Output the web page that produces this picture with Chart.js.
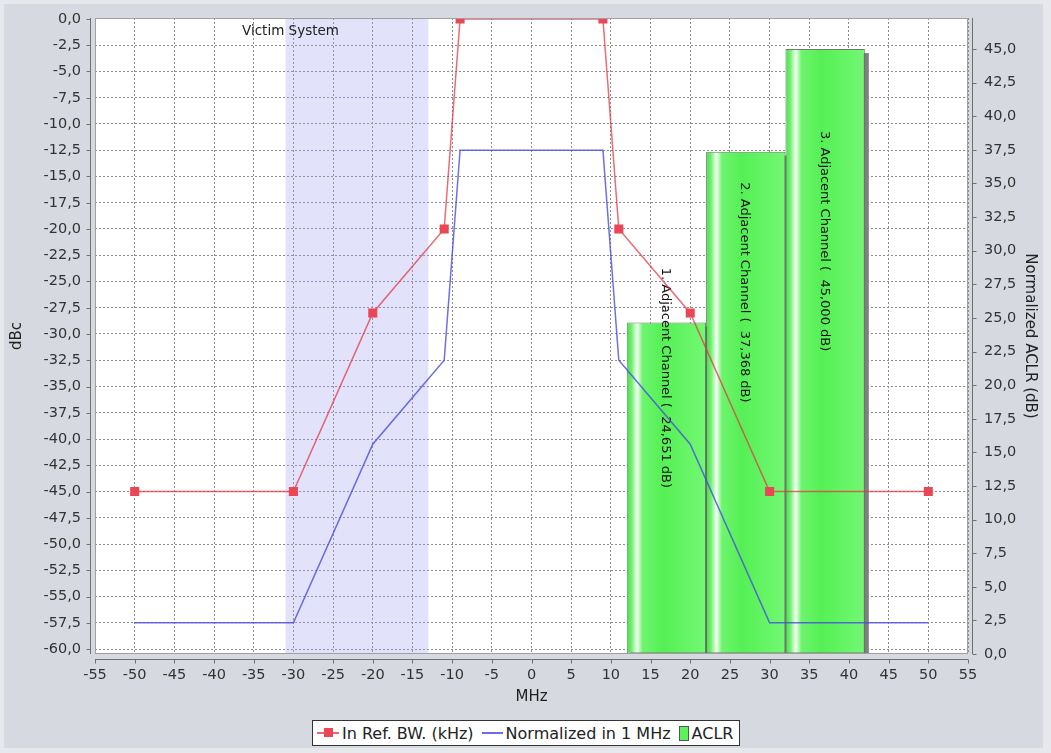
<!DOCTYPE html>
<html>
<head>
<meta charset="utf-8">
<script src="https://cdn.jsdelivr.net/npm/chart.js@4"></script>
<style>
  html, body { margin: 0; padding: 0; background: #e6e8ec; }
  #wrap { position: relative; width: 1051px; height: 753px; overflow: hidden; }
  #panel { position: absolute; left: 4px; top: 4px; width: 1039px; height: 744px; background: #d6d9df; }
  #chart { position: absolute; left: 0; top: 0; }
  #legend {
    position: absolute; top: 720px; left: 312px;
    display: flex; align-items: center; height: 24px;
    padding: 0 6px 0 4px; background: #fff; border: 1px solid #333;
    font: 16px "DejaVu Sans", sans-serif; color: #222; white-space: pre;
  }
  #legend .item { display: flex; align-items: center; margin-right: 8px; }
  #legend .item:last-child { margin-right: 0; }
  #legend .sym { display: inline-block; position: relative; margin-right: 3px; }
  #legend .red { width: 22px; height: 2px; background: rgba(230,50,65,0.75); }
  #legend .red::after { content: ""; position: absolute; left: 7px; top: -4px; width: 9px; height: 9px; background: #eb4656; }
  #legend .blue { width: 21px; height: 1.5px; background: rgba(70,70,225,0.8); }
  #legend .green { width: 8px; height: 13px; background: #5cf25c; border: 1px solid #555; }
</style>
</head>
<body>
<div id="wrap">
  <div id="panel"></div>
  <canvas id="chart" width="1051" height="753"></canvas>
  <div id="legend"></div>
</div>
<script>
// frequency offset (MHz) of the spectrum mask points
const freqMHz = [-50, -30, -20, -11, -9, 9, 11, 20, 30, 50];
const inRefBW = [-45, -45, -28, -20, 0, 0, -20, -28, -45, -45];
const normalized1MHz = [-57.5, -57.5, -40.5, -32.5, -12.5, -12.5, -32.5, -40.5, -57.5, -57.5];

// adjacent channel bars (right axis)
const aclrStart = [12, 22, 32];
const aclrEnd = [22, 32, 42];
const aclrValues = [24.651, 37.368, 45.0];
const aclrLabels = ['1. Adjacent Channel (  24,651 dB)', '2. Adjacent Channel (  37,368 dB)', '3. Adjacent Channel (  45,000 dB)'];

const victimBand = [-31, -13];
const victimLabel = 'Victim System';
const seriesNames = ['In Ref. BW. (kHz)', 'Normalized in 1 MHz', 'ACLR'];

const FONT = '"DejaVu Sans", sans-serif';
const fmt = v => (Math.abs(v) < 1e-9 ? 0 : v).toFixed(1).replace('.', ',');

function barFill(c) {
  const xs = c.chart.scales.x;
  const i = c.dataIndex;
  if (!xs || i === undefined) return '#5cf25c';
  const x0 = xs.getPixelForValue(aclrStart[i]);
  const x1 = xs.getPixelForValue(aclrEnd[i]);
  if (!isFinite(x0) || !isFinite(x1) || x1 <= x0) return '#5cf25c';
  const g = c.chart.ctx.createLinearGradient(x0, 0, x1, 0);
  g.addColorStop(0, 'rgb(70,225,70)');
  g.addColorStop(0.06, 'rgb(110,240,110)');
  g.addColorStop(0.13, 'rgb(245,255,245)');
  g.addColorStop(0.2, 'rgb(110,245,110)');
  g.addColorStop(0.45, 'rgb(85,240,85)');
  g.addColorStop(1, 'rgb(115,248,115)');
  return g;
}

const decor = {
  id: 'decor',
  beforeDraw(chart) {
    const { ctx, chartArea: a } = chart;
    ctx.save();
    ctx.fillStyle = '#fff';
    ctx.fillRect(a.left, a.top, a.right - a.left, a.bottom - a.top);
    ctx.restore();
  },
  beforeDatasetsDraw(chart) {
    const { ctx, chartArea: a, scales: { x } } = chart;
    const x0 = x.getPixelForValue(victimBand[0]);
    const x1 = x.getPixelForValue(victimBand[1]);
    ctx.save();
    ctx.fillStyle = 'rgba(160,160,240,0.3)';
    ctx.fillRect(x0, a.top, x1 - x0, a.bottom - a.top);
    ctx.fillStyle = '#222';
    ctx.font = '13.5px ' + FONT;
    ctx.textAlign = 'center';
    ctx.textBaseline = 'middle';
    ctx.fillText(victimLabel, x0 + 5, a.top + 13);
    ctx.restore();
  },
  beforeDatasetDraw(chart, args) {
    if (args.index !== 2) return;
    // drop shadow behind the bars (offset down-right)
    const { ctx, chartArea: a } = chart;
    ctx.save();
    ctx.beginPath();
    ctx.rect(a.left, a.top, a.right - a.left, a.bottom - a.top);
    ctx.clip();
    ctx.fillStyle = 'rgb(128,128,128)';
    args.meta.data.forEach(bar => {
      ctx.fillRect(bar.x - bar.width / 2 + 4, bar.y + 4, bar.width, bar.base - bar.y);
    });
    ctx.restore();
  },
  afterDatasetDraw(chart, args) {
    if (args.index !== 2) return;
    // channel captions, rotated, ending at the bar middle
    const ctx = chart.ctx;
    ctx.save();
    ctx.fillStyle = '#111';
    ctx.font = '13px ' + FONT;
    ctx.textAlign = 'right';
    ctx.textBaseline = 'middle';
    args.meta.data.forEach((bar, i) => {
      const mid = (bar.y + bar.base) / 2;
      ctx.save();
      ctx.translate(bar.x - 1, mid);
      ctx.rotate(Math.PI / 2);
      ctx.fillText(aclrLabels[i], 0, 0);
      ctx.restore();
    });
    ctx.restore();
  },
  afterDraw(chart) {
    const { ctx, chartArea: a, scales } = chart;
    ctx.save();
    ctx.strokeStyle = '#a0a0a0';
    ctx.lineWidth = 1;
    ctx.strokeRect(a.left + 0.5, a.top + 0.5, a.right - a.left - 1, a.bottom - a.top - 1);
    ctx.strokeStyle = '#707070';
    ctx.beginPath();
    const lx = a.left - 4.5, rx = a.right + 4.5, by = a.bottom + 5.5;
    ctx.moveTo(lx, a.top); ctx.lineTo(lx, a.bottom);
    scales.y.ticks.forEach(t => {
      const y = Math.round(scales.y.getPixelForValue(t.value)) + 0.5;
      ctx.moveTo(lx - 4, y); ctx.lineTo(lx, y);
    });
    ctx.moveTo(rx, a.top); ctx.lineTo(rx, a.bottom);
    scales.y2.ticks.forEach(t => {
      const y = Math.round(scales.y2.getPixelForValue(t.value)) + 0.5;
      ctx.moveTo(rx, y); ctx.lineTo(rx + 4, y);
    });
    ctx.moveTo(a.left, by); ctx.lineTo(a.right, by);
    scales.x.ticks.forEach(t => {
      const x = Math.round(scales.x.getPixelForValue(t.value)) + 0.5;
      ctx.moveTo(x, by); ctx.lineTo(x, by + 4);
    });
    ctx.stroke();
    ctx.restore();
  }
};

const gridDash = { display: false, dash: [2, 2] };
const fitV = w => s => { s.width = w; s.paddingTop = 0; s.paddingBottom = 0; };

new Chart(document.getElementById('chart'), {
  data: {
    datasets: [{
      type: 'line',
      label: seriesNames[0],
      data: freqMHz.map((f, i) => ({ x: f, y: inRefBW[i] })),
      yAxisID: 'y',
      borderColor: 'rgba(230,50,65,0.72)',
      borderWidth: 1.5,
      pointStyle: 'rect',
      pointRadius: 6.4,
      pointBorderWidth: 0,
      pointBackgroundColor: '#eb4656',
      tension: 0,
      order: 0
    }, {
      type: 'line',
      label: seriesNames[1],
      data: freqMHz.map((f, i) => ({ x: f, y: normalized1MHz[i] })),
      yAxisID: 'y',
      borderColor: 'rgba(70,70,225,0.78)',
      borderWidth: 1.5,
      pointRadius: 0,
      tension: 0,
      order: 1
    }, {
      type: 'bar',
      label: seriesNames[2],
      data: aclrValues.map((v, i) => ({ x: (aclrStart[i] + aclrEnd[i]) / 2, y: v })),
      yAxisID: 'y2',
      backgroundColor: barFill,
      borderColor: 'rgba(90,110,90,0.9)',
      borderWidth: 1,
      borderSkipped: false,
      barPercentage: 2,
      categoryPercentage: 1,
      order: 2
    }]
  },
  options: {
    responsive: false,
    animation: false,
    events: [],
    layout: { padding: { left: 0, right: 0, top: 18, bottom: 39 } },
    plugins: { legend: { display: false }, tooltip: { enabled: false } },
    scales: {
      x: {
        type: 'linear', min: -55, max: 55, offset: false,
        afterFit: s => { s.height = 60; s.paddingLeft = 0; s.paddingRight = 0; },
        ticks: { stepSize: 5, color: '#333', font: { size: 14.5, family: FONT }, padding: 13, maxRotation: 0 },
        grid: { color: '#8c8c8c', drawTicks: false, offset: false },
        border: gridDash,
        title: { display: true, text: 'MHz', color: '#222', font: { size: 15, family: FONT }, padding: { top: 0, bottom: 8 } }
      },
      y: {
        type: 'linear', position: 'left', min: -60.476, max: 0.095,
        afterFit: fitV(95),
        ticks: { stepSize: 2.5, includeBounds: false, color: '#333', font: { size: 14.5, family: FONT }, padding: 14, callback: v => fmt(v) },
        grid: { color: '#8c8c8c', drawTicks: false },
        border: gridDash,
        title: { display: true, text: 'dBc', color: '#222', font: { size: 15, family: FONT }, padding: { top: 8, bottom: 0 } }
      },
      y2: {
        type: 'linear', position: 'right', min: 0, max: 47.31,
        afterFit: fitV(83),
        ticks: { stepSize: 2.5, includeBounds: false, color: '#333', font: { size: 14.5, family: FONT }, padding: 16, callback: v => fmt(v) },
        grid: { drawOnChartArea: false, drawTicks: false },
        border: { display: false },
        title: { display: true, text: 'Normalized ACLR (dB)', color: '#222', font: { size: 15, family: FONT }, padding: { top: 12, bottom: 0 } }
      }
    }
  },
  plugins: [decor]
});

// legend box under the plot
const legendEl = document.getElementById('legend');
['red', 'blue', 'green'].forEach((cls, i) => {
  const item = document.createElement('span');
  item.className = 'item';
  const sym = document.createElement('span');
  sym.className = 'sym ' + cls;
  item.appendChild(sym);
  item.appendChild(document.createTextNode(seriesNames[i]));
  legendEl.appendChild(item);
});
</script>
</body>
</html>
